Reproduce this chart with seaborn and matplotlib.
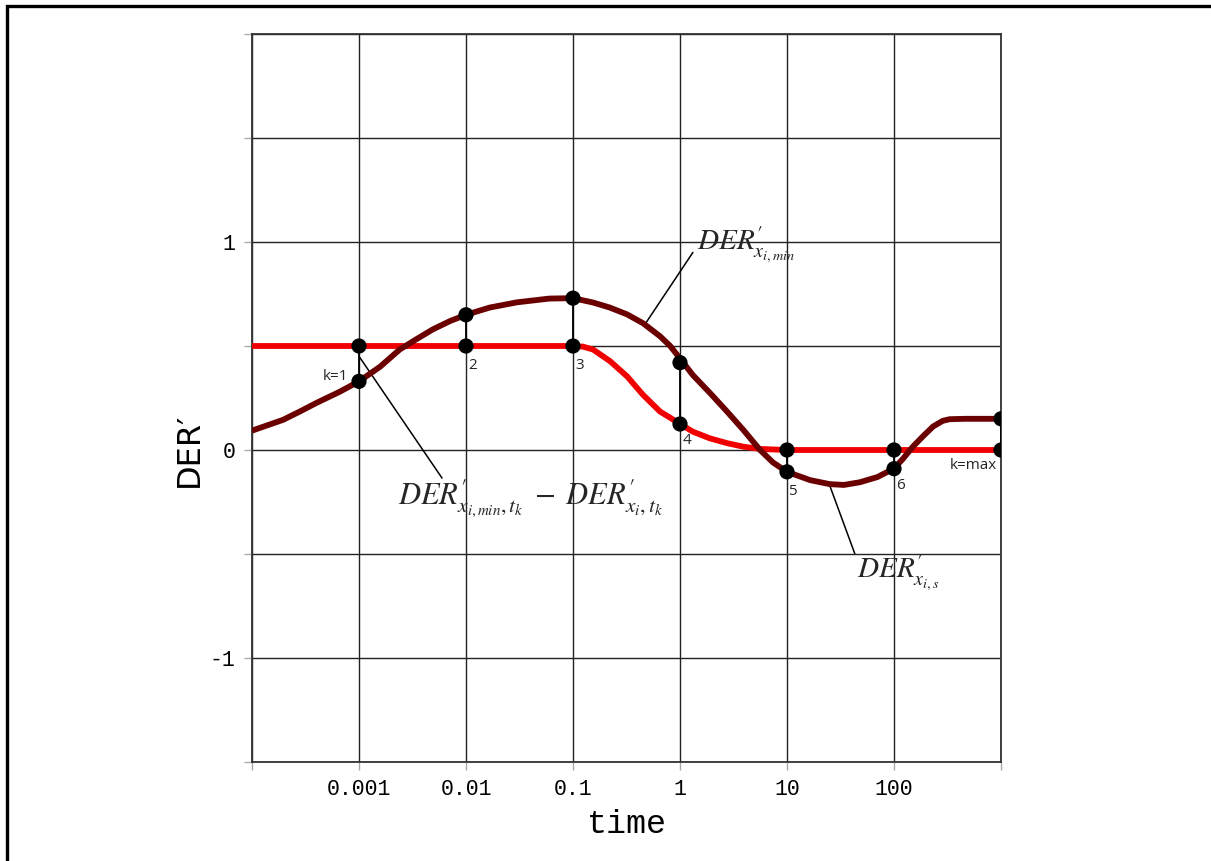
import numpy as np
import pandas as pd
import matplotlib
matplotlib.use('Agg')
import matplotlib.pyplot as plt
import matplotlib.patches as patches
import seaborn as sns

# curve DER'_{x_i,min} (dark)
t_min = [1e-4, 1.95e-4, 2.8e-4, 4.06e-4, 6.6e-4, 1e-3, 1.57e-3, 2.4e-3, 3.5e-3, 4.9e-3,
         7.1e-3, 0.01, 0.0167, 0.03, 0.06, 0.1, 0.154, 0.22, 0.32, 0.45, 0.65, 0.81, 1,
         1.32, 1.9, 2.75, 3.9, 5.6, 7.4, 10, 16.5, 25, 34, 48, 70, 100, 120, 150, 190,
         232, 285, 330, 460, 1000]
v_min = [0.093, 0.145, 0.185, 0.228, 0.28, 0.33, 0.40, 0.483, 0.535, 0.58,
         0.62, 0.65, 0.685, 0.71, 0.728, 0.73, 0.709, 0.685, 0.652, 0.61, 0.547, 0.50, 0.44,
         0.36, 0.275, 0.185, 0.097, 0.0, -0.06, -0.105, -0.145, -0.164, -0.168, -0.155,
         -0.13, -0.089, -0.045, 0.016, 0.07, 0.113, 0.14, 0.148, 0.15, 0.15]

# curve DER'_{x_i,s} (red)
t_s = [1e-4, 1e-3, 0.01, 0.1, 0.124, 0.154, 0.222, 0.32, 0.45, 0.65, 0.81, 1, 1.32, 1.9,
       2.75, 3.9, 5.6, 10, 100, 1000]
v_s = [0.5, 0.5, 0.5, 0.5, 0.497, 0.483, 0.427, 0.354, 0.266, 0.185, 0.155, 0.125, 0.088,
       0.056, 0.033, 0.016, 0.005, 0.0, 0.0, 0.0]

# sampling points k
k_t = [1e-3, 1e-2, 1e-1, 1, 10, 100, 1000]
k_min = [0.33, 0.65, 0.73, 0.42, -0.105, -0.09, 0.15]
k_s = [0.5, 0.5, 0.5, 0.125, 0.0, 0.0, 0.0]
k_labels = ['k=1', '2', '3', '4', '5', '6', 'k=max']

x_ticks = [1e-4, 1e-3, 1e-2, 1e-1, 1, 10, 100, 1000]
x_ticklabels = ['', '0.001', '0.01', '0.1', '1', '10', '100', '']
y_ticks = [-1.5, -1, -0.5, 0, 0.5, 1, 1.5, 2]
y_ticklabels = ['', '-1', '', '0', '', '1', '', '']

sns.set_style('white')
plt.rcParams['mathtext.fontset'] = 'stix'

RED = '#f00000'
DARK = '#6b0000'

curves = pd.concat([
    pd.DataFrame({'t': t_s, 'v': v_s, 'curve': 's'}),
    pd.DataFrame({'t': t_min, 'v': v_min, 'curve': 'min'}),
])
points = pd.DataFrame({'t': k_t + k_t, 'v': k_s + k_min})

fig = plt.figure(figsize=(12.11, 8.61), dpi=100)
ax = fig.add_axes([252 / 1211, 1 - 762 / 861, 749 / 1211, 728 / 861])
ax.set_xscale('log')

sns.lineplot(data=curves, x='t', y='v', hue='curve', palette={'s': RED, 'min': DARK},
             hue_order=['s', 'min'], estimator=None, sort=False, lw=4.2, legend=False,
             ax=ax, zorder=3, solid_joinstyle='round', solid_capstyle='butt')
ax.vlines(k_t, k_s, k_min, color='black', lw=1.3, zorder=4)
sns.scatterplot(data=points, x='t', y='v', color='black', s=120, edgecolor='none',
                ax=ax, zorder=5)

ax.set_xlim(1e-4, 1e3)
ax.set_ylim(-1.5, 2)
ax.set_xticks(x_ticks)
ax.set_xticklabels(x_ticklabels, family='Liberation Mono', fontsize=15.5)
ax.xaxis.set_minor_locator(matplotlib.ticker.NullLocator())
ax.set_yticks(y_ticks)
ax.set_yticklabels(y_ticklabels, family='Liberation Mono', fontsize=15.5)
ax.tick_params(axis='both', which='major', direction='out', length=6, width=1,
               color='#aaaaaa', labelcolor='black', pad=6, bottom=True, left=True)
ax.grid(True, color='#222222', lw=1.0)
for s in ax.spines.values():
    s.set_color('#333333')
    s.set_linewidth(1.3)

ax.set_xlabel('time', family='Liberation Mono', fontsize=24, labelpad=7, color='black')
ax.set_ylabel('DER′', family='DejaVu Sans', fontsize=23, color='black')
ax.yaxis.set_label_coords(-0.063, 0.4286)

# point labels
offsets = [(-11, 5, 'right', 0), (2, -20, 'left', 1), (2, -20, 'left', 1),
           (3, -17, 'left', 1), (1, -20, 'left', 0), (2, -17, 'left', 0), (-4, -16, 'right', 1)]
for i, lab in enumerate(k_labels):
    dx, dy, ha, on_s = offsets[i]
    yv = k_s[i] if on_s else k_min[i]
    ax.annotate(lab, (k_t[i], yv), xytext=(dx, dy), textcoords='offset pixels',
                ha=ha, va='center', family='Open Sans', fontsize=11, zorder=6)

# leader lines and formula labels
ax.plot([0.47, 1.32], [0.604, 0.95], color='black', lw=1.1, zorder=2)
ax.text(1.44, 0.985, r"$DER^{\prime}_{x_{i,min}}$", fontsize=21, ha='left', va='center')
ax.plot([1.02e-3, 5.97e-3], [0.444, -0.135], color='black', lw=1.1, zorder=2)
ax.text(2.31e-3, -0.235, r"$DER^{\prime}_{x_{i,min},t_k}\;-\;DER^{\prime}_{x_i,t_k}$",
        fontsize=22, ha='left', va='center')
ax.plot([25, 43], [-0.169, -0.498], color='black', lw=1.1, zorder=2)
ax.text(45, -0.59, r"$DER^{\prime}_{x_{i,s}}$", fontsize=21, ha='left', va='center')

# outer frame
fig.patches.append(patches.Rectangle((7 / 1211, -0.1), 2, 1.1 - 6 / 861, fill=False,
                                     lw=2.4, edgecolor='black', transform=fig.transFigure))

fig.savefig('out.png', dpi=100)
